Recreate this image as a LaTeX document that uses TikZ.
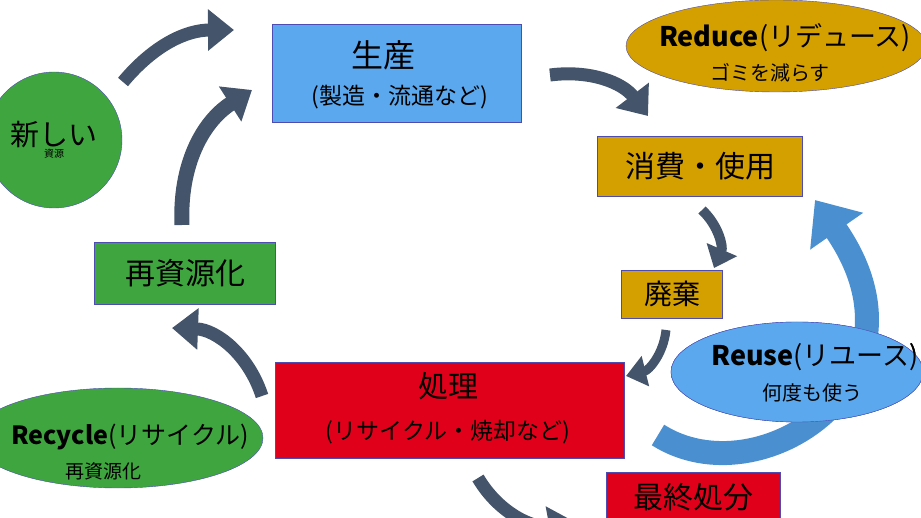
\documentclass[tikz,border=0pt]{standalone}
\usepackage{fontspec}
\setmainfont{Noto Sans CJK JP}
\usetikzlibrary{positioning,arrows.meta,shapes.geometric}
\definecolor{prodblue}{HTML}{5BA8EE}
\definecolor{gold}{HTML}{D4A000}
\definecolor{redbox}{HTML}{E0001A}
\definecolor{greenbox}{HTML}{3FA63F}
\definecolor{slate}{HTML}{44546A}
\definecolor{reuseblue}{HTML}{4A8FD0}
\begin{document}
\begin{tikzpicture}[x=1pt,y=-1pt,
    box/.style={draw=blue!40!gray,rectangle,align=center,inner sep=0pt},
    oval/.style={draw=blue!40!gray,ellipse,align=center,inner sep=0pt},
    flow/.style={slate,line width=13pt,-{Triangle[length=26pt,width=40pt]}}]
\useasboundingbox (0,0) rectangle (921,518);
\clip (0,0) rectangle (921,518);
\node (prod) [box,fill=prodblue,minimum width=249pt,minimum height=98pt] at (397,73) {};
\node at (383,55) {\fontsize{32}{36}\selectfont 生産};
\node at (400,97) {\fontsize{23}{26}\selectfont (製造・流通など)};
\node (reduce) [oval,fill=gold,minimum width=300pt,minimum height=92pt] at (776,46) {};
\node at (785,38) {\fontsize{27}{30}\selectfont\textbf{Reduce}(リデュース)};
\node at (770,73) {\fontsize{20}{24}\selectfont ゴミを減らす};
\node (use) [box,fill=gold,minimum width=205pt,minimum height=60pt] at (700,166)
    {\fontsize{30}{34}\selectfont 消費・使用};
\node (waste) [box,fill=gold,minimum width=101pt,minimum height=48pt] at (672,294)
    {\fontsize{28}{32}\selectfont 廃棄};
\node (reuse) [oval,fill=prodblue,minimum width=252pt,minimum height=100pt] at (797,372) {};
\node at (815,357) {\fontsize{27}{30}\selectfont\textbf{Reuse}(リユース)};
\node at (812,393) {\fontsize{20}{24}\selectfont 何度も使う};
\node (treat) [box,fill=redbox,minimum width=349pt,minimum height=96pt] at (450,410) {};
\node at (448,386) {\fontsize{30}{34}\selectfont 処理};
\node at (448,432) {\fontsize{23}{26}\selectfont (リサイクル・焼却など)};
\node (final) [box,fill=redbox,minimum width=174pt,minimum height=70pt,anchor=north west] at (606,472) {};
\node at (693,497) {\fontsize{30}{34}\selectfont 最終処分};
\node (reres) [box,fill=greenbox,minimum width=181pt,minimum height=62pt] at (185,273)
    {\fontsize{30}{34}\selectfont 再資源化};
\node (newres) [circle,draw=blue!40!gray,fill=greenbox,minimum size=136pt,align=center,inner sep=0pt] at (54,140)
    {\fontsize{29}{38}\selectfont 新しい\\資源};
\node (recycle) [oval,fill=greenbox,minimum width=290pt,minimum height=100pt] at (118,438) {};
\node at (130,437) {\fontsize{25}{28}\selectfont\textbf{Recycle}(リサイクル)};
\node at (103,471) {\fontsize{19}{22}\selectfont 再資源化};
% flow arrows
\coordinate (a1s) at (123,82); \coordinate (a1e) at (234,30);
\coordinate (a2s) at (182,225); \coordinate (a2e) at (252,90);
\coordinate (a3s) at (550,75); \coordinate (a3e) at (648,116);
\coordinate (a4s) at (702,210); \coordinate (a4e) at (714,268);
\coordinate (a5s) at (666,330); \coordinate (a5e) at (626,376);
\coordinate (a6s) at (262,396); \coordinate (a6e) at (172,328);
\coordinate (a7s) at (478,478); \coordinate (a7e) at (575,522);
\draw[flow] (a1s) to[bend left=25] (a1e);
\draw[flow,line width=15pt] (a2s) to[bend left=30] (a2e);
\draw[flow] (a3s) to[bend left=30] (a3e);
\draw[flow,line width=10pt,-{Triangle[length=20pt,width=32pt]}] (a4s) to[bend left=35] (a4e);
\draw[flow,line width=9pt,-{Triangle[length=20pt,width=30pt]}] (a5s) to[bend left=35] (a5e);
\draw[flow] (a6s) to[bend right=35] (a6e);
\draw[flow] (a7s) to[bend right=35] (a7e);
% reuse loop
\coordinate (rs) at (658,435); \coordinate (re) at (815,200);
\draw[reuseblue,line width=24pt,-{Triangle[length=38pt,width=62pt]}]
    (rs) .. controls (760,500) and (940,380) .. (re);
\node [oval,draw=blue!40!gray,fill=prodblue,minimum width=252pt,minimum height=100pt] at (797,372) {};
\node at (815,357) {\fontsize{27}{30}\selectfont\textbf{Reuse}(リユース)};
\node at (812,393) {\fontsize{20}{24}\selectfont 何度も使う};
\end{tikzpicture}
\end{document}
